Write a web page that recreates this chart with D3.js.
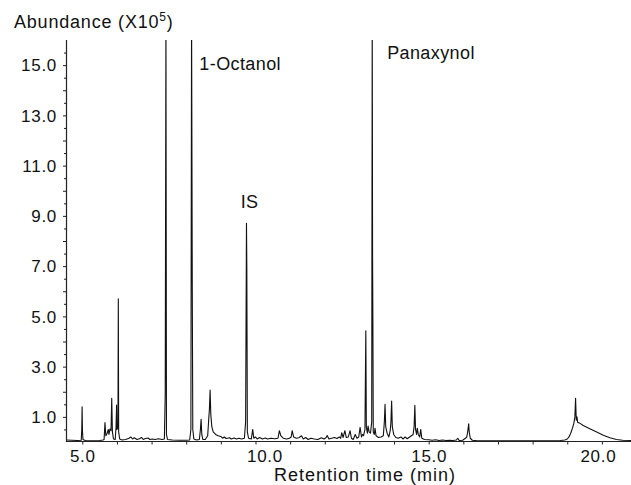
<!DOCTYPE html>
<html><head><meta charset="utf-8">
<script src="https://cdn.jsdelivr.net/npm/d3@7"></script>
<style>
html,body{margin:0;padding:0;background:#fff;}
svg text{font-family:"Liberation Sans",Arial,Helvetica,sans-serif;fill:#111;}
</style></head>
<body><svg id="chart" width="631" height="485"></svg>
<script>
// Retention time (min) and abundance (x10^5)
const retentionTime = [
4.53,4.7,4.85,4.97,4.985,4.995,5.005,5.02,5.1,5.3,5.5,5.6,
5.63,5.655,5.68,5.72,5.75,5.77,5.8,5.83,5.85,5.87,5.9,5.95,5.975,5.99,6.0,6.03,6.04,6.05,6.08,
6.15,6.25,6.35,6.4,6.45,6.5,6.58,6.65,6.71,6.76,6.82,6.9,6.95,7.02,7.1,7.2,7.3,7.37,
7.395,7.415,7.43,7.46,
7.6,7.8,8.0,8.1,
8.135,8.155,8.175,8.19,8.22,
8.3,8.38,8.41,8.43,8.45,8.48,8.55,8.62,8.65,8.67,8.69,8.71,8.74,8.78,8.85,8.92,9.0,9.05,9.1,9.15,9.25,9.3,9.38,9.45,9.52,9.6,9.68,
9.715,9.74,9.75,9.765,9.8,
9.88,9.92,9.95,10.0,10.05,10.12,10.2,10.28,10.35,10.45,10.55,10.65,10.69,10.73,10.8,10.9,10.98,11.03,11.06,11.1,11.18,11.25,11.33,11.38,11.45,11.52,11.6,11.7,11.8,11.9,11.98,12.04,12.07,12.12,12.2,12.28,12.35,12.42,12.46,12.49,12.53,12.58,12.62,12.68,12.73,12.77,12.82,12.88,12.93,12.98,13.02,13.06,13.09,13.12,13.16,13.185,13.2,13.23,13.25,13.28,13.32,
13.355,13.37,13.38,13.39,13.4,
13.43,13.45,13.48,13.55,13.62,13.69,13.72,13.74,13.76,13.8,13.85,13.89,13.91,13.93,13.95,13.99,14.05,14.12,14.2,14.26,14.32,14.38,14.45,14.5,14.55,14.58,14.6,14.62,14.65,14.67,14.7,14.74,14.77,14.8,14.88,
15.0,15.1,15.2,15.3,15.4,15.5,15.6,15.7,15.8,15.84,15.88,15.98,16.06,16.1,16.13,16.155,16.17,16.2,16.26,
16.4,16.7,17.0,17.3,17.6,17.9,18.2,18.5,18.8,18.93,19.0,19.05,19.1,19.15,19.19,19.22,19.24,19.26,19.28,19.3,19.35,19.46,19.65,19.85,20.04,20.23,20.42,20.6,20.84
];
const abundance = [
0.08,0.07,0.06,0.07,0.5,1.4,0.45,0.1,0.05,0.05,0.06,0.08,
0.1,0.77,0.25,0.35,0.5,0.3,0.52,0.45,1.74,0.4,0.12,0.1,0.6,1.47,0.5,0.6,5.7,0.4,0.12,
0.08,0.1,0.15,0.2,0.12,0.17,0.1,0.13,0.18,0.1,0.14,0.16,0.1,0.12,0.1,0.13,0.1,0.12,
1.95,17,0.3,0.1,
0.08,0.07,0.07,0.08,
0.5,17,6.2,0.5,0.12,
0.08,0.1,0.5,0.9,0.3,0.1,0.1,0.25,0.9,1.3,2.07,1.1,0.6,0.4,0.3,0.25,0.22,0.15,0.2,0.14,0.17,0.12,0.16,0.12,0.15,0.12,0.15,
0.8,8.7,6.95,0.4,0.15,
0.12,0.5,0.15,0.2,0.12,0.18,0.12,0.16,0.12,0.15,0.13,0.15,0.45,0.25,0.15,0.12,0.15,0.2,0.45,0.2,0.15,0.17,0.25,0.12,0.18,0.1,0.15,0.12,0.1,0.17,0.12,0.18,0.26,0.12,0.15,0.18,0.14,0.2,0.15,0.37,0.18,0.45,0.18,0.2,0.45,0.15,0.1,0.3,0.15,0.2,0.58,0.2,0.3,0.25,0.5,4.43,0.6,0.35,0.63,0.4,0.35,
0.8,17,7.35,4.4,0.4,
0.3,0.55,0.25,0.18,0.2,0.25,0.8,1.5,0.6,0.35,0.2,0.45,0.8,1.63,0.6,0.3,0.18,0.15,0.2,0.12,0.2,0.13,0.2,0.25,0.3,0.63,1.46,0.5,0.3,0.55,0.3,0.2,0.5,0.15,0.1,
0.09,0.07,0.09,0.06,0.08,0.06,0.07,0.06,0.08,0.15,0.06,0.07,0.15,0.2,0.45,0.72,0.4,0.15,0.07,
0.05,0.05,0.05,0.05,0.05,0.05,0.05,0.05,0.06,0.08,0.12,0.2,0.35,0.55,0.74,1.0,1.74,0.87,1.0,0.78,0.76,0.66,0.53,0.4,0.27,0.17,0.1,0.07,0.06
];
const xTickLabels = [5, 10, 15, 20];
const xMinorTicks = [5,6,7,8,9,10,11,12,13,14,15,16,17,18,19,20];
const yTickLabels = [1, 3, 5, 7, 9, 11, 13, 15];
const peakNames = ["1-Octanol", "IS", "Panaxynol"];
const xDomain = [4.53, 20.84];
const yDomain = [0, 16];

const svg = d3.select("#chart");
const L = 66, R = 631, T = 40, B = 442;
const x = d3.scaleLinear().domain(xDomain).range([L, R]);
const y = d3.scaleLinear().domain(yDomain).range([B, T]);

svg.append("defs").append("clipPath").attr("id","plot")
  .append("rect").attr("x", L).attr("y", T).attr("width", R - L).attr("height", B - T + 2);

const pts = retentionTime.map((t, i) => [t, abundance[i]]);
const line = d3.line().x(d => x(d[0])).y(d => y(d[1]));
svg.append("path").datum(pts).attr("clip-path","url(#plot)")
  .attr("d", line).attr("fill","none").attr("stroke","#111").attr("stroke-width",1.1)
  .attr("stroke-linejoin","round");

// Y axis
const yHalf = d3.range(0.5, 16, 0.5).filter(v => Number.isInteger(v) === false);
const yInts = d3.range(1, 16, 1);
const gy = svg.append("g").attr("transform", `translate(${L},0)`);
gy.call(d3.axisLeft(y).tickValues(yHalf).tickSize(2).tickFormat("").tickSizeOuter(0));
gy.call(g => g.select(".domain").remove());
const gy2 = svg.append("g").attr("transform", `translate(${L},0)`);
gy2.call(d3.axisLeft(y).tickValues(yInts).tickSize(3).tickSizeOuter(0)
  .tickFormat(d => yTickLabels.includes(d) ? d3.format(".1f")(d) : ""));
gy2.select(".domain").remove();
gy2.selectAll("text").attr("x", -9).attr("dy","0.34em").style("font-size","17px").style("letter-spacing","0.7px");
svg.append("line").attr("x1", L + 0.5).attr("x2", L + 0.5).attr("y1", T).attr("y2", B)
  .attr("stroke","#222").attr("stroke-width",1.2);

// X axis
const xLabelShift = {5: 0, 10: 9, 15: 0, 20: -4};
const gx = svg.append("g").attr("transform", `translate(0,${B - 0.5})`);
gx.call(d3.axisBottom(x).tickValues(xMinorTicks).tickSize(3).tickSizeOuter(0)
  .tickFormat(d => xTickLabels.includes(d) ? d3.format(".1f")(d) : ""));
gx.select(".domain").remove();
gx.selectAll(".tick text").attr("y", 8).attr("dy","0.71em")
  .attr("dx", d => xLabelShift[d] || 0)
  .style("font-size","17px").style("letter-spacing","0.7px");
svg.append("line").attr("x1", L).attr("x2", R).attr("y1", B - 0.5).attr("y2", B - 0.5)
  .attr("stroke","#222").attr("stroke-width",1.2);
svg.selectAll(".tick line").attr("stroke","#222");

// Axis titles
const yt = svg.append("text").attr("x", 14).attr("y", 28).style("font-size","18px").style("letter-spacing","0.8px");
yt.append("tspan").text("Abundance (X10");
yt.append("tspan").text("5").attr("dy", -7).style("font-size","12px");
yt.append("tspan").text(")").attr("dy", 7);
svg.append("text").attr("x", 365).attr("y", 481).attr("text-anchor","middle")
  .style("font-size","18px").style("letter-spacing","1px").text("Retention time (min)");

// Peak annotations
const annT = [8.38, 9.83, 13.8];
const annV = [14.8, 9.3, 15.25];
const annAnchor = ["start", "middle", "start"];
peakNames.forEach((n, i) => {
  svg.append("text").attr("x", x(annT[i])).attr("y", y(annV[i]))
    .attr("text-anchor", annAnchor[i]).style("font-size","18px").style("letter-spacing","0.4px").text(n);
});
</script></body></html>
